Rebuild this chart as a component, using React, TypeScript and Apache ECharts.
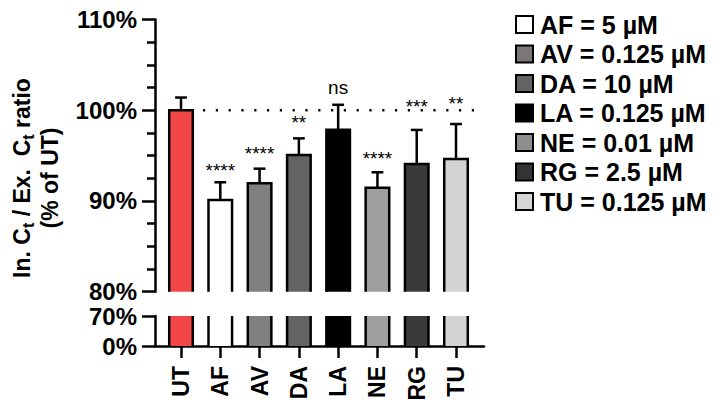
import React, { useEffect, useRef } from 'react';
import * as echarts from 'echarts';

const FONT = '"Liberation Sans", Arial, Helvetica, sans-serif';

// ---- data ----
const categories = ['UT', 'AF', 'AV', 'DA', 'LA', 'NE', 'RG', 'TU'];
const means = [100, 90.1, 91.95, 95.07, 97.86, 91.47, 94.08, 94.63];
const errors = [1.4, 1.96, 1.61, 1.83, 2.74, 1.69, 3.75, 3.85];
const sigLabels = ['', '****', '****', '**', 'ns', '****', '***', '**'];
const sigPos = [0, 93.38, 95.23, 98.64, 102.47, 94.67, 100.36, 100.77];
const barColors = ['#F24646', '#FFFFFF', '#808080', '#636363', '#000000', '#9E9E9E', '#3A3A3A', '#D3D3D3'];
const legendLabels = ['AF = 5 µM', 'AV = 0.125 µM', 'DA = 10 µM', 'LA = 0.125 µM', 'NE = 0.01 µM', 'RG = 2.5 µM', 'TU = 0.125 µM'];
const legendColors = ['#FFFFFF', '#7A7776', '#636363', '#000000', '#8E8E8E', '#333333', '#D6D6D6'];
const upperRange = [80, 110];
const upperInterval = 10;
const lowerRange = [0, 70];
const referenceValue = 100;

const BAND_LEFT = 161.36;
const BAND_WIDTH = 314.29;
const LW = 2.5;

function buildOption() {
  const barData = categories.map((_, i) => [i, means[i]]);

  const axisLineStyle = { color: '#000', width: LW };
  const yLabel = {
    color: '#000', fontSize: 24, fontWeight: 'bold' as const, fontFamily: FONT,
    margin: 18, formatter: '{value}%',
  };

  const upperBars = {
    type: 'custom', xAxisIndex: 0, yAxisIndex: 0, silent: true, z: 2,
    data: barData,
    renderItem: (params: any, api: any) => {
      const i = api.value(0);
      const v = api.value(1);
      const top = api.coord([i, v]);
      const base = api.coord([i, upperRange[0]]);
      const w = api.size([1, 0])[0] * 0.6;
      const x0 = top[0] - w / 2;
      const x1 = top[0] + w / 2;
      return {
        type: 'group',
        children: [
          { type: 'rect', shape: { x: x0, y: top[1], width: w, height: base[1] - top[1] }, style: { fill: barColors[params.dataIndex] } },
          { type: 'polyline', shape: { points: [[x0, base[1]], [x0, top[1]], [x1, top[1]], [x1, base[1]]] }, style: { fill: 'none', stroke: '#000', lineWidth: LW } },
        ],
      };
    },
  };

  const lowerBars = {
    type: 'custom', xAxisIndex: 1, yAxisIndex: 1, silent: true, z: 2,
    data: barData,
    renderItem: (params: any, api: any) => {
      const i = api.value(0);
      const v = Math.min(api.value(1), lowerRange[1]);
      const top = api.coord([i, v]);
      const base = api.coord([i, lowerRange[0]]);
      const w = api.size([1, 0])[0] * 0.6;
      const x0 = top[0] - w / 2;
      const x1 = top[0] + w / 2;
      return {
        type: 'group',
        children: [
          { type: 'rect', shape: { x: x0, y: top[1], width: w, height: base[1] - top[1] }, style: { fill: barColors[params.dataIndex] } },
          { type: 'line', shape: { x1: x0, y1: top[1], x2: x0, y2: base[1] }, style: { stroke: '#000', lineWidth: LW } },
          { type: 'line', shape: { x1: x1, y1: top[1], x2: x1, y2: base[1] }, style: { stroke: '#000', lineWidth: LW } },
        ],
      };
    },
  };

  const errorBars = {
    type: 'custom', xAxisIndex: 0, yAxisIndex: 0, silent: true, z: 3,
    data: categories.map((_, i) => [i, means[i], means[i] + errors[i]]),
    renderItem: (params: any, api: any) => {
      const i = api.value(0);
      const top = api.coord([i, api.value(1)]);
      const hi = api.coord([i, api.value(2)]);
      const cw = api.size([1, 0])[0] * 0.3;
      return {
        type: 'group',
        children: [
          { type: 'line', shape: { x1: top[0], y1: top[1], x2: hi[0], y2: hi[1] }, style: { stroke: '#000', lineWidth: LW } },
          { type: 'line', shape: { x1: hi[0] - cw / 2, y1: hi[1], x2: hi[0] + cw / 2, y2: hi[1] }, style: { stroke: '#000', lineWidth: LW } },
        ],
      };
    },
  };

  const sigSeries = {
    type: 'custom', xAxisIndex: 0, yAxisIndex: 0, silent: true, z: 4,
    data: categories.map((_, i) => [i, sigPos[i]]),
    renderItem: (params: any, api: any) => {
      const txt = sigLabels[params.dataIndex];
      if (!txt) return null;
      const p = api.coord([api.value(0), api.value(1)]);
      return {
        type: 'text', x: p[0], y: p[1],
        style: { text: txt, fill: '#000', fontSize: 19, fontFamily: FONT, align: 'center', verticalAlign: 'middle' },
      };
    },
  };

  const refLine = {
    type: 'custom', xAxisIndex: 0, yAxisIndex: 0, silent: true, z: 1,
    data: [[0, referenceValue]],
    renderItem: (params: any, api: any) => {
      const band = api.size([1, 0])[0];
      const a = api.coord([0, api.value(1)]);
      const b = api.coord([categories.length - 1, api.value(1)]);
      return {
        type: 'line',
        shape: { x1: a[0] + band * 0.56, y1: a[1], x2: b[0] + band * 0.69, y2: b[1] },
        style: { stroke: '#000', lineWidth: 2.6, lineDash: [2.2, 10.6] },
      };
    },
  };

  const legendSeries = legendLabels.map((name, k) => ({
    type: 'bar', name, xAxisIndex: 0, yAxisIndex: 0, data: [],
    itemStyle: { color: legendColors[k], borderColor: '#000', borderWidth: 1.6 },
  }));

  return {
    animation: false,
    backgroundColor: '#fff',
    grid: [
      { left: BAND_LEFT, top: 19.5, width: BAND_WIDTH, height: 272.2 },
      { left: BAND_LEFT, top: 316, width: BAND_WIDTH, height: 30 },
      { left: 155, top: 345, width: 329, height: 1 },
    ],
    xAxis: [
      { type: 'category', gridIndex: 0, data: categories, show: false },
      {
        type: 'category', gridIndex: 1, data: categories,
        axisLine: { show: false },
        axisTick: { show: true, alignWithLabel: true, length: 12, lineStyle: axisLineStyle },
        axisLabel: { rotate: 90, margin: 20, color: '#000', fontSize: 23, fontWeight: 'bold', fontFamily: FONT },
        splitLine: { show: false },
      },
      {
        type: 'value', gridIndex: 2, min: 0, max: 1,
        axisLine: { show: true, lineStyle: axisLineStyle },
        axisTick: { show: false }, axisLabel: { show: false }, splitLine: { show: false },
      },
    ],
    yAxis: [
      {
        type: 'value', gridIndex: 0, min: upperRange[0], max: upperRange[1], interval: upperInterval, offset: BAND_LEFT - 155,
        axisLine: { show: true, lineStyle: axisLineStyle },
        axisTick: { show: true, length: 13, lineStyle: axisLineStyle },
        minorTick: { show: true, splitNumber: 4, length: 8, lineStyle: { color: '#000', width: LW } },
        axisLabel: yLabel,
        splitLine: { show: false }, minorSplitLine: { show: false },
      },
      {
        type: 'value', gridIndex: 1, min: lowerRange[0], max: lowerRange[1], interval: lowerRange[1], offset: BAND_LEFT - 155,
        axisLine: { show: true, lineStyle: axisLineStyle },
        axisTick: { show: true, length: 13, lineStyle: axisLineStyle },
        axisLabel: yLabel,
        splitLine: { show: false },
      },
      { type: 'value', gridIndex: 2, show: false },
    ],
    legend: {
      orient: 'vertical', left: 515, top: 12, padding: 0,
      icon: 'rect', itemWidth: 17, itemHeight: 17, itemGap: 4.5,
      selectedMode: false,
      data: legendLabels,
      textStyle: { color: '#000', fontSize: 25, fontWeight: 'bold', fontFamily: FONT, padding: [0, 0, 0, 2] },
    },
    graphic: [
      {
        type: 'text', x: 36, y: 178, rotation: Math.PI / 2,
        style: {
          text: '{m|In. C}{s|t}{m| / Ex.  C}{s|t}{m| ratio}\n{m|(% of UT)}',
          align: 'center', verticalAlign: 'middle', fill: '#000',
          rich: {
            m: { fontSize: 23, fontWeight: 'bold', fontFamily: FONT, lineHeight: 28, fill: '#000' },
            s: { fontSize: 16, fontWeight: 'bold', fontFamily: FONT, lineHeight: 28, verticalAlign: 'bottom', fill: '#000' },
          },
        },
      },
    ],
    series: [refLine, upperBars, lowerBars, errorBars, sigSeries, ...legendSeries],
  };
}

export default function App() {
  const ref = useRef<HTMLDivElement>(null);
  useEffect(() => {
    const chart = echarts.init(ref.current!, null, { renderer: 'svg' });
    chart.setOption(buildOption() as any);
    return () => chart.dispose();
  }, []);
  return <div ref={ref} style={{ position: 'absolute', left: 0, top: 0, width: 719, height: 409 }} />;
}
